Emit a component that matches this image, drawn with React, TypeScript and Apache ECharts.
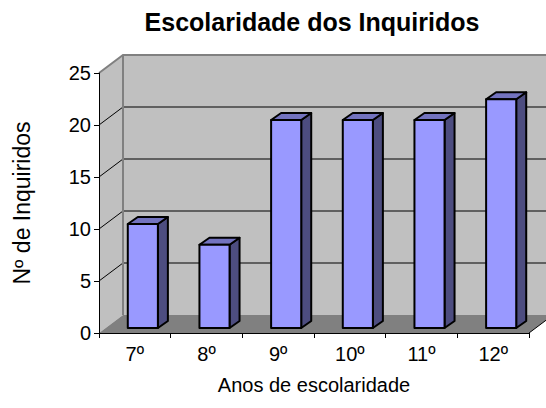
import React, { useEffect, useRef } from "react";
import * as echarts from "echarts";

const categories = ["7º", "8º", "9º", "10º", "11º", "12º"];
const counts = [10, 8, 20, 20, 20, 22];
const yTicks = [0, 5, 10, 15, 20, 25];
const titleText = "Escolaridade dos Inquiridos";
const xName = "Anos de escolaridade";
const yName = "Nº de Inquiridos";

const FONT = "'Liberation Sans', Arial, sans-serif";
const DX = 24; // wall depth (x)
const DY = 18; // wall depth (y)
const OX = 8; // bar offset into depth
const OY = 5;
const BX = 10; // bar depth
const BY = 7;

export default function App() {
  const ref = useRef<HTMLDivElement>(null);
  useEffect(() => {
    if (!ref.current) return;
    const chart = echarts.init(ref.current, null, { renderer: "svg" });
    const yMin = yTicks[0];
    const yMax = yTicks[yTicks.length - 1];
    const wallsRender = (params: any, api: any) => {
      const cs = params.coordSys;
      const x0 = cs.x;
      const x1 = cs.x + cs.width;
      const yb = api.coord([0, yMin])[1];
      const yt = api.coord([0, yMax])[1];
      const children: any[] = [];
      children.push({
        type: "polygon",
        shape: { points: [[x0, yb], [x0 + DX, yb - DY], [x0 + DX, yt - DY], [x0, yt]] },
        style: { fill: "#C0C0C0" },
      });
      children.push({
        type: "rect",
        shape: { x: x0 + DX, y: yt - DY, width: x1 - x0, height: yb - yt },
        style: { fill: "#C0C0C0" },
      });
      children.push({
        type: "polygon",
        shape: { points: [[x0, yb], [x1, yb], [x1 + DX, yb - DY], [x0 + DX, yb - DY]] },
        style: { fill: "#808080" },
      });
      yTicks.forEach((v) => {
        if (v === yMin || v === yMax) return;
        const y = api.coord([0, v])[1];
        children.push({
          type: "polyline",
          shape: { points: [[x0, y], [x0 + DX, y - DY], [x1 + DX, y - DY]] },
          style: { stroke: "#000", lineWidth: 1, fill: null },
        });
      });
      children.push({
        type: "polyline",
        shape: { points: [[x0, yt], [x0 + DX, yt - DY], [x1 + DX, yt - DY], [x1 + DX, yb - DY]] },
        style: { stroke: "#808080", lineWidth: 2, fill: null },
      });
      children.push({
        type: "line",
        shape: { x1: x0 + DX, y1: yt - DY, x2: x0 + DX, y2: yb - DY },
        style: { stroke: "#808080", lineWidth: 2 },
      });
      children.push({
        type: "line",
        shape: { x1: x1, y1: yb, x2: x1 + DX, y2: yb - DY },
        style: { stroke: "#000", lineWidth: 1 },
      });
      return { type: "group", children };
    };
    const barsRender = (params: any, api: any) => {
      const idx = api.value(0);
      const val = api.value(1);
      const base = api.coord([idx, 0]);
      const top = api.coord([idx, val]);
      const band = api.size([1, 0])[0];
      const w = band * 0.42;
      const cx = base[0] + OX;
      const xl = cx - w / 2;
      const xr = cx + w / 2;
      const yb = base[1] - OY;
      const yt = top[1] - OY;
      const st = { stroke: "#000", lineWidth: 2, lineJoin: "round" };
      return {
        type: "group",
        children: [
          {
            type: "polygon",
            shape: { points: [[xr, yb], [xr + BX, yb - BY], [xr + BX, yt - BY], [xr, yt]] },
            style: { fill: "#4D4D80", ...st },
          },
          {
            type: "polygon",
            shape: { points: [[xl, yt], [xr, yt], [xr + BX, yt - BY], [xl + BX, yt - BY]] },
            style: { fill: "#7373BF", ...st },
          },
          {
            type: "rect",
            shape: { x: xl, y: yt, width: w, height: yb - yt },
            style: { fill: "#9999FF", ...st },
          },
        ],
      };
    };
    chart.setOption({
      animation: false,
      backgroundColor: "#FFFFFF",
      textStyle: { fontFamily: FONT },
      title: {
        text: titleText,
        left: 307,
        textAlign: "center",
        top: 4,
        textStyle: { fontFamily: FONT, fontSize: 25, fontWeight: "bold", color: "#000" },
      },
      grid: { left: 99, top: 73, width: 430, height: 260, containLabel: false },
      xAxis: {
        type: "category",
        data: categories,
        boundaryGap: true,
        axisLine: { show: true, lineStyle: { color: "#000", width: 1 } },
        axisTick: { show: true, length: 5, lineStyle: { color: "#000" } },
        axisLabel: { color: "#000", fontSize: 20, fontFamily: FONT, margin: 11 },
        splitLine: { show: false },
        name: xName,
        nameLocation: "middle",
        nameGap: 42,
        nameTextStyle: { color: "#000", fontSize: 20, fontFamily: FONT },
        z: 3,
      },
      yAxis: {
        type: "value",
        min: yMin,
        max: yMax,
        interval: yTicks[1] - yTicks[0],
        axisLine: { show: true, lineStyle: { color: "#000", width: 1 } },
        axisTick: { show: true, length: 5, lineStyle: { color: "#000" } },
        axisLabel: { color: "#000", fontSize: 20, fontFamily: FONT, margin: 8 },
        splitLine: { show: false },
        name: yName,
        nameLocation: "middle",
        nameRotate: 90,
        nameGap: 66,
        nameTextStyle: { color: "#000", fontSize: 23, fontFamily: FONT },
        z: 3,
      },
      series: [
        {
          type: "custom",
          renderItem: wallsRender,
          data: [[0, 0]],
          z: -5,
          silent: true,
          clip: false,
        },
        {
          type: "custom",
          renderItem: barsRender,
          data: counts.map((v, i) => [i, v]),
          encode: { x: 0, y: 1 },
          z: 5,
          clip: false,
        },
      ],
    });
    return () => chart.dispose();
  }, []);
  return (
    <div
      ref={ref}
      style={{ position: "fixed", left: 0, top: 0, width: 546, height: 408 }}
    />
  );
}
